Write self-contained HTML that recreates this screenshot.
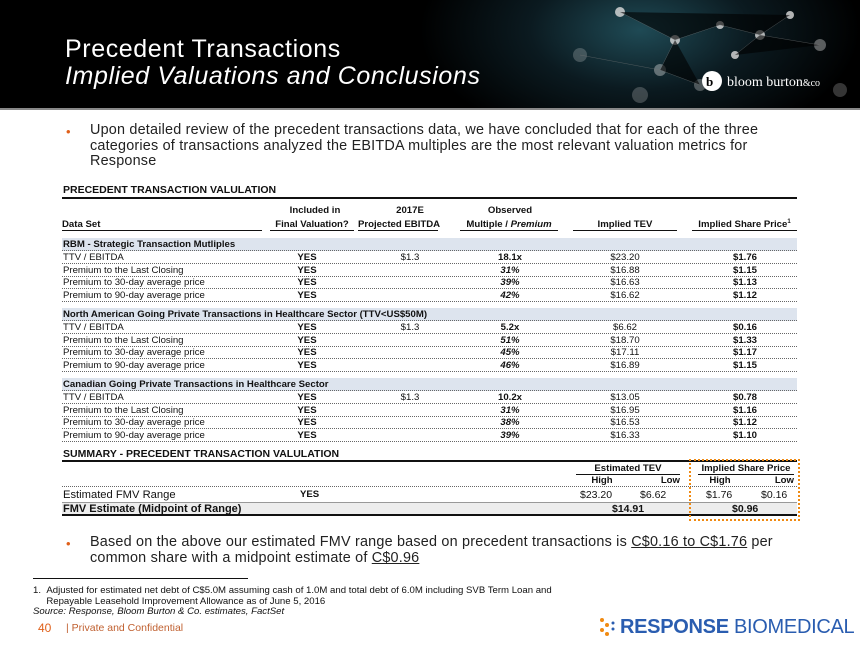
<!DOCTYPE html>
<html><head><meta charset="utf-8"><style>
*{margin:0;padding:0;box-sizing:border-box}
body{width:860px;height:645px;background:#fff;font-family:"Liberation Sans",Arial,sans-serif;position:relative;overflow:hidden;color:#111}
.a{position:absolute;white-space:nowrap}
.hdr{left:0;top:0;width:860px;height:110px;background:radial-gradient(ellipse 220px 120px at 640px 30px,#1f4a55 0%,#0b1a20 50%,#000 100%);border-bottom:2px solid #888}
.t1{left:65px;top:35px;font-size:25px;color:#fff;letter-spacing:.6px}
.t2{left:65px;top:62px;font-size:25px;color:#fff;font-style:italic;letter-spacing:.6px}
.bul{font-size:14.4px;color:#222;line-height:15.5px;letter-spacing:.2px}
.dot{color:#e0601a;font-size:13px}
.row{position:absolute;left:62px;width:735px;height:12.4px;font-size:9.6px;border-bottom:1px dotted #666;line-height:12px}
.row span{position:absolute;top:0}
.c1{left:1px}
.c2{left:215px;width:60px;text-align:center;font-weight:bold}
.c3{left:318px;width:60px;text-align:center}
.c4{left:417px;width:62px;text-align:center;font-weight:bold;font-style:italic}
.c5{left:525px;width:76px;text-align:center}
.c6{left:650px;width:66px;text-align:center;font-weight:bold}
.sec{position:absolute;left:62px;width:735px;height:13px;background:#dde4ee;font-size:9.6px;font-weight:bold;line-height:14px;padding-left:1px;border-bottom:1px dotted #666}
.h{position:absolute;font-size:9.6px;font-weight:bold;text-align:center;white-space:nowrap}
.ul{border-bottom:1.5px solid #111}
</style></head><body>
<div class="a hdr"></div>
<svg class="a" style="left:520px;top:0" width="340" height="110">
<g fill="#ddd" opacity=".8"><circle cx="100" cy="12" r="5"/><circle cx="155" cy="40" r="5"/><circle cx="200" cy="25" r="4"/><circle cx="140" cy="70" r="6" opacity=".5"/><circle cx="240" cy="35" r="5"/><circle cx="270" cy="15" r="4"/><circle cx="300" cy="45" r="6" opacity=".5"/><circle cx="60" cy="55" r="7" opacity=".3"/><circle cx="180" cy="85" r="6" opacity=".4"/><circle cx="215" cy="55" r="4"/><circle cx="320" cy="90" r="7" opacity=".3"/><circle cx="120" cy="95" r="8" opacity=".3"/></g>
<g stroke="#777" stroke-width=".5" opacity=".6"><path d="M100 12L155 40L200 25L240 35L270 15M155 40L140 70L180 85M215 55L240 35L300 45M60 55L140 70"/></g>
<circle cx="192" cy="81" r="10" fill="#fff"/><text x="186" y="86" font-size="13" font-weight="bold" fill="#000" font-family="Liberation Serif">b</text>
<text x="207" y="86" font-size="14" fill="#fff" font-family="Liberation Serif">bloom burton<tspan font-size="10">&amp;co</tspan></text>
</svg>
<div class="a t1">Precedent Transactions</div>
<div class="a t2">Implied Valuations and Conclusions</div>

<div class="a dot" style="left:66px;top:124px">•</div>
<div class="a bul" style="left:90px;top:123px">Upon detailed review of the precedent transactions data, we have concluded that for each of the three<br>categories of transactions analyzed the EBITDA multiples are the most relevant valuation metrics for<br>Response</div>

<div class="a" style="left:63px;top:184px;font-size:10.5px;font-weight:bold">PRECEDENT TRANSACTION VALULATION</div>
<div class="a" style="left:62px;top:197px;width:735px;border-top:2px solid #111"></div>
<div class="h" style="left:270px;top:205px;width:90px">Included in</div>
<div class="h" style="left:380px;top:205px;width:60px">2017E</div>
<div class="h" style="left:460px;top:205px;width:100px">Observed</div>
<div class="h ul" style="left:62px;top:219px;width:200px;text-align:left">Data Set</div>
<div class="h ul" style="left:270px;top:219px;width:84px">Final Valuation?</div>
<div class="h ul" style="left:358px;top:219px;width:80px">Projected EBITDA</div>
<div class="h ul" style="left:460px;top:219px;width:98px">Multiple / <i>Premium</i></div>
<div class="h ul" style="left:573px;top:219px;width:104px">Implied TEV</div>
<div class="h ul" style="left:692px;top:219px;width:105px">Implied Share Price<sup style="font-size:6px">1</sup></div>

<div class="sec" style="top:238px">RBM - Strategic Transaction Mutliples</div>
<div class="row" style="top:252px"><span class="c1">TTV / EBITDA</span><span class="c2">YES</span><span class="c3">$1.3</span><span class="c4" style="font-style:normal">18.1x</span><span class="c5">$23.20</span><span class="c6">$1.76</span></div>
<div class="row" style="top:264.5px"><span class="c1">Premium to the Last Closing</span><span class="c2">YES</span><span class="c4">31%</span><span class="c5">$16.88</span><span class="c6">$1.15</span></div>
<div class="row" style="top:277px"><span class="c1">Premium to 30-day average price</span><span class="c2">YES</span><span class="c4">39%</span><span class="c5">$16.63</span><span class="c6">$1.13</span></div>
<div class="row" style="top:289.5px"><span class="c1">Premium to 90-day average price</span><span class="c2">YES</span><span class="c4">42%</span><span class="c5">$16.62</span><span class="c6">$1.12</span></div>

<div class="sec" style="top:308px">North American Going Private Transactions in Healthcare Sector (TTV&lt;US$50M)</div>
<div class="row" style="top:322px"><span class="c1">TTV / EBITDA</span><span class="c2">YES</span><span class="c3">$1.3</span><span class="c4" style="font-style:normal">5.2x</span><span class="c5">$6.62</span><span class="c6">$0.16</span></div>
<div class="row" style="top:334.5px"><span class="c1">Premium to the Last Closing</span><span class="c2">YES</span><span class="c4">51%</span><span class="c5">$18.70</span><span class="c6">$1.33</span></div>
<div class="row" style="top:347px"><span class="c1">Premium to 30-day average price</span><span class="c2">YES</span><span class="c4">45%</span><span class="c5">$17.11</span><span class="c6">$1.17</span></div>
<div class="row" style="top:359.5px"><span class="c1">Premium to 90-day average price</span><span class="c2">YES</span><span class="c4">46%</span><span class="c5">$16.89</span><span class="c6">$1.15</span></div>

<div class="sec" style="top:378px">Canadian Going Private Transactions in Healthcare Sector</div>
<div class="row" style="top:392px"><span class="c1">TTV / EBITDA</span><span class="c2">YES</span><span class="c3">$1.3</span><span class="c4" style="font-style:normal">10.2x</span><span class="c5">$13.05</span><span class="c6">$0.78</span></div>
<div class="row" style="top:404.5px"><span class="c1">Premium to the Last Closing</span><span class="c2">YES</span><span class="c4">31%</span><span class="c5">$16.95</span><span class="c6">$1.16</span></div>
<div class="row" style="top:417px"><span class="c1">Premium to 30-day average price</span><span class="c2">YES</span><span class="c4">38%</span><span class="c5">$16.53</span><span class="c6">$1.12</span></div>
<div class="row" style="top:429.5px"><span class="c1">Premium to 90-day average price</span><span class="c2">YES</span><span class="c4">39%</span><span class="c5">$16.33</span><span class="c6">$1.10</span></div>

<div class="a" style="left:63px;top:448px;font-size:10.5px;font-weight:bold">SUMMARY - PRECEDENT TRANSACTION VALULATION</div>
<div class="a" style="left:62px;top:460px;width:735px;border-top:2px solid #111"></div>
<div class="h ul" style="left:576px;top:463px;width:104px">Estimated TEV</div>
<div class="h ul" style="left:698px;top:463px;width:96px">Implied Share Price</div>
<div class="h" style="left:576px;top:475px;width:52px">High</div><div class="h" style="left:628px;top:475px;width:52px;text-align:right">Low</div>
<div class="h" style="left:698px;top:475px;width:44px">High</div><div class="h" style="left:742px;top:475px;width:52px;text-align:right">Low</div>
<div class="a" style="left:62px;top:486px;width:735px;border-top:1px dotted #666"></div>
<div class="a" style="left:63px;top:489px;font-size:11.2px">Estimated FMV Range</div>
<div class="a" style="left:300px;top:489px;font-size:9.6px;font-weight:bold">YES</div>
<div class="a" style="left:580px;top:489px;font-size:10.5px">$23.20</div><div class="a" style="left:640px;top:489px;font-size:10.5px">$6.62</div>
<div class="a" style="left:706px;top:489px;font-size:10.5px">$1.76</div><div class="a" style="left:761px;top:489px;font-size:10.5px">$0.16</div>
<div class="a" style="left:62px;top:502px;width:735px;height:14px;background:#ededed;border-top:1px solid #999;border-bottom:2px solid #111"></div>
<div class="a" style="left:63px;top:503px;font-size:11px;font-weight:bold">FMV Estimate (Midpoint of Range)</div>
<div class="a" style="left:612px;top:503px;font-size:10.5px;font-weight:bold">$14.91</div>
<div class="a" style="left:732px;top:503px;font-size:10.5px;font-weight:bold">$0.96</div>
<div class="a" style="left:689px;top:459px;width:111px;height:62px;border:2.5px dotted #f08a12"></div>

<div class="a dot" style="left:66px;top:536px">•</div>
<div class="a bul" style="left:90px;top:535px">Based on the above our estimated FMV range based on precedent transactions is <u>C$0.16 to C$1.76</u> per<br>common share with a midpoint estimate of <u>C$0.96</u></div>
<div class="a" style="left:33px;top:578px;width:215px;border-top:1px solid #111"></div>
<div class="a" style="left:33px;top:586px;font-size:9.6px;line-height:10.5px">1.&nbsp;&nbsp;Adjusted for estimated net debt of C$5.0M assuming cash of 1.0M and total debt of 6.0M including SVB Term Loan and<br>&nbsp;&nbsp;&nbsp;&nbsp;&nbsp;Repayable Leasehold Improvement Allowance as of June 5, 2016<br><i>Source: Response, Bloom Burton &amp; Co. estimates, FactSet</i></div>
<div class="a" style="left:38px;top:621px;font-size:12px;color:#e0601a">40</div>
<div class="a" style="left:66px;top:622px;font-size:10.5px;color:#c06030">| Private and Confidential</div>
<svg class="a" style="left:598px;top:617px" width="20" height="20"><g fill="#f08a12"><circle cx="4" cy="3" r="2"/><circle cx="9" cy="8" r="2"/><circle cx="4" cy="13" r="2"/><circle cx="9" cy="17" r="2"/></g><g fill="#2a5db0"><circle cx="15" cy="6" r="1.5"/><circle cx="15" cy="12" r="1.5"/></g></svg>
<div class="a" style="left:620px;top:616px;font-size:20px;color:#2a5db0;letter-spacing:-.3px"><b>RESPONSE</b> BIOMEDICAL</div>
</body></html>
